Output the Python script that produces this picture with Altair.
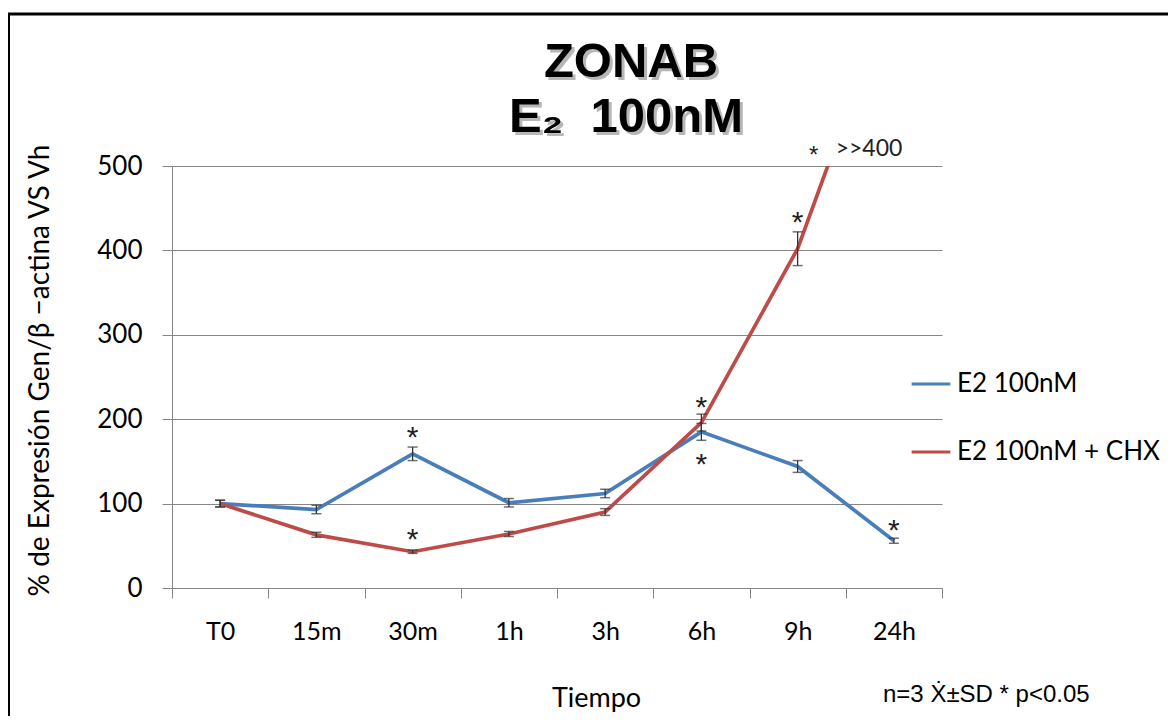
import altair as alt
import pandas as pd

# ---- data ----
categories = ["T0", "15m", "30m", "1h", "3h", "6h", "9h", "24h"]
series_names = ["E2 100nM", "E2 100nM + CHX"]
blue_values = [100, 93, 159, 101, 112, 185, 144, 56]
blue_sd = [4, 5, 8, 5, 5, 10, 7, 3]
red_values = [100, 63, 43, 64, 90, 196, 402, 715]
red_sd = [4, 3, 2, 3, 4, 10, 20, None]

star_categories = ["30m", "30m", "6h", "6h", "9h", "24h"]
star_values = [187, 66, 223, 155, 442, 77]

off_category = "9h"
off_value = 520
off_label = ">>400"
footnote = "n=3 Ẋ±SD * p<0.05"
title_lines = ["ZONAB", "E₂\u00a0 100nM"]
y_ticks = [0, 100, 200, 300, 400, 500]
colors = ["#4A7EBB", "#BE4B48"]

rows = []
for name, vals, sds in [(series_names[0], blue_values, blue_sd),
                        (series_names[1], red_values, red_sd)]:
    for c, v, s in zip(categories, vals, sds):
        rows.append({"cat": c, "series": name, "value": v,
                     "lo": None if s is None else v - s,
                     "hi": None if s is None else v + s})
df = pd.DataFrame(rows)
df_err = df.dropna(subset=["lo"])
df_star = pd.DataFrame({"cat": star_categories, "value": star_values, "t": ["*"] * len(star_values)})
df_off = pd.DataFrame({"cat": [off_category], "value": [off_value], "t": [off_label], "s": ["*"]})

FONT = "Lato"
GRAY = "#868686"

xscale = alt.Scale(type="band", paddingInner=0, paddingOuter=0, domain=categories)
yscale = alt.Scale(domain=[0, 500], nice=False)

x_enc = alt.X("cat:N", sort=categories, scale=xscale,
              axis=alt.Axis(title="Tiempo", tickBand="extent", labelAngle=0,
                            tickSize=10, tickColor=GRAY, domainColor=GRAY,
                            labelFont=FONT, labelFontSize=25, labelColor="black",
                            labelPadding=21, grid=False,
                            titleFont=FONT, titleFontSize=27, titleFontWeight="normal",
                            titleColor="black", titleX=424, titleY=110,
                            titleBaseline="middle", titleAlign="center"))
y_enc = alt.Y("value:Q", scale=yscale,
              axis=alt.Axis(title="% de Expresión Gen/β −actina VS Vh", values=y_ticks,
                            tickSize=10, tickColor=GRAY, domainColor=GRAY,
                            gridColor=GRAY, grid=True,
                            labelFont=FONT, labelFontSize=26, labelColor="black",
                            labelPadding=20,
                            titleFont=FONT, titleFontSize=28, titleFontWeight="normal",
                            titleColor="black", titleAngle=-90, titleX=-132, titleY=204,
                            titleBaseline="middle", titleAlign="center"))

base = alt.Chart(df)

lines = base.mark_line(strokeWidth=3.7, clip=True).encode(
    x=x_enc, y=y_enc,
    color=alt.Color("series:N", scale=alt.Scale(domain=series_names, range=colors),
                    sort=series_names,
                    legend=alt.Legend(title=None, orient="none", legendX=738, legendY=197,
                                      symbolType="stroke", symbolStrokeWidth=3,
                                      symbolSize=1500, labelFont=FONT, labelFontSize=26,
                                      labelColor="black", rowPadding=34, labelOffset=5,
                                      labelLimit=400)),
)

err_rules = alt.Chart(df_err).mark_rule(color="#333333", strokeWidth=1.3).encode(
    x=alt.X("cat:N", sort=categories, scale=xscale), y=alt.Y("lo:Q", scale=yscale), y2="hi:Q")
err_lo = alt.Chart(df_err).mark_tick(color="#333333", thickness=1.5, size=10).encode(
    x=alt.X("cat:N", sort=categories, scale=xscale), y=alt.Y("lo:Q", scale=yscale))
err_hi = alt.Chart(df_err).mark_tick(color="#333333", thickness=1.5, size=10).encode(
    x=alt.X("cat:N", sort=categories, scale=xscale), y=alt.Y("hi:Q", scale=yscale))

stars = alt.Chart(df_star).mark_text(font="Liberation Sans", fontSize=30, color="#222222",
                                     baseline="alphabetic", dy=17).encode(
    x=alt.X("cat:N", sort=categories, scale=xscale), y=alt.Y("value:Q", scale=yscale), text="t:N")

off_star = alt.Chart(df_off).mark_text(font="Liberation Sans", fontSize=24, color="#222222",
                                       baseline="alphabetic", dy=14, dx=16).encode(
    x=alt.X("cat:N", sort=categories, scale=xscale), y=alt.Y("value:Q", scale=yscale), text="s:N")
off_text = alt.Chart(df_off).mark_text(font=FONT, fontSize=23, color="#222222",
                                       baseline="middle", align="left", dx=38).encode(
    x=alt.X("cat:N", sort=categories, scale=xscale), y=alt.Y("value:Q", scale=yscale), text="t:N")

foot = alt.Chart(pd.DataFrame({"t": [footnote]})).mark_text(
    font="Liberation Sans", fontSize=24, align="left", baseline="middle", color="black").encode(
    x=alt.value(711), y=alt.value(529), text="t:N")

df_title = pd.DataFrame({"t": title_lines, "xp": [459, 454], "yp": [-89, -34]})
title_shadow = alt.Chart(df_title).mark_text(
    font="Liberation Sans", fontSize=49, fontWeight="bold", color="#9a9a9a", opacity=0.7,
    baseline="alphabetic", align="center", dx=3, dy=3).encode(
    x=alt.X("xp:Q", scale=None), y=alt.Y("yp:Q", scale=None), text="t:N")
title_text = alt.Chart(df_title).mark_text(
    font="Liberation Sans", fontSize=49, fontWeight="bold", color="black",
    baseline="alphabetic", align="center").encode(
    x=alt.X("xp:Q", scale=None), y=alt.Y("yp:Q", scale=None), text="t:N")

border = alt.Chart(pd.DataFrame({"a": [0]})).mark_rect(
    fillOpacity=0, stroke="black", strokeWidth=3).encode(
    x=alt.value(-163.5), x2=alt.value(1100), y=alt.value(-152), y2=alt.value(620))

chart = alt.layer(border, lines, err_rules, err_lo, err_hi, stars, off_star, off_text, foot,
                  title_shadow, title_text).properties(
    width=770, height=422,
    autosize=alt.AutoSizeParams(type="none"),
    padding={"left": 164, "top": 158, "right": 226, "bottom": 128},
    background="white",
).configure_view(stroke=None)

chart.save("out.html", embed_options={"renderer": "svg", "actions": False})
